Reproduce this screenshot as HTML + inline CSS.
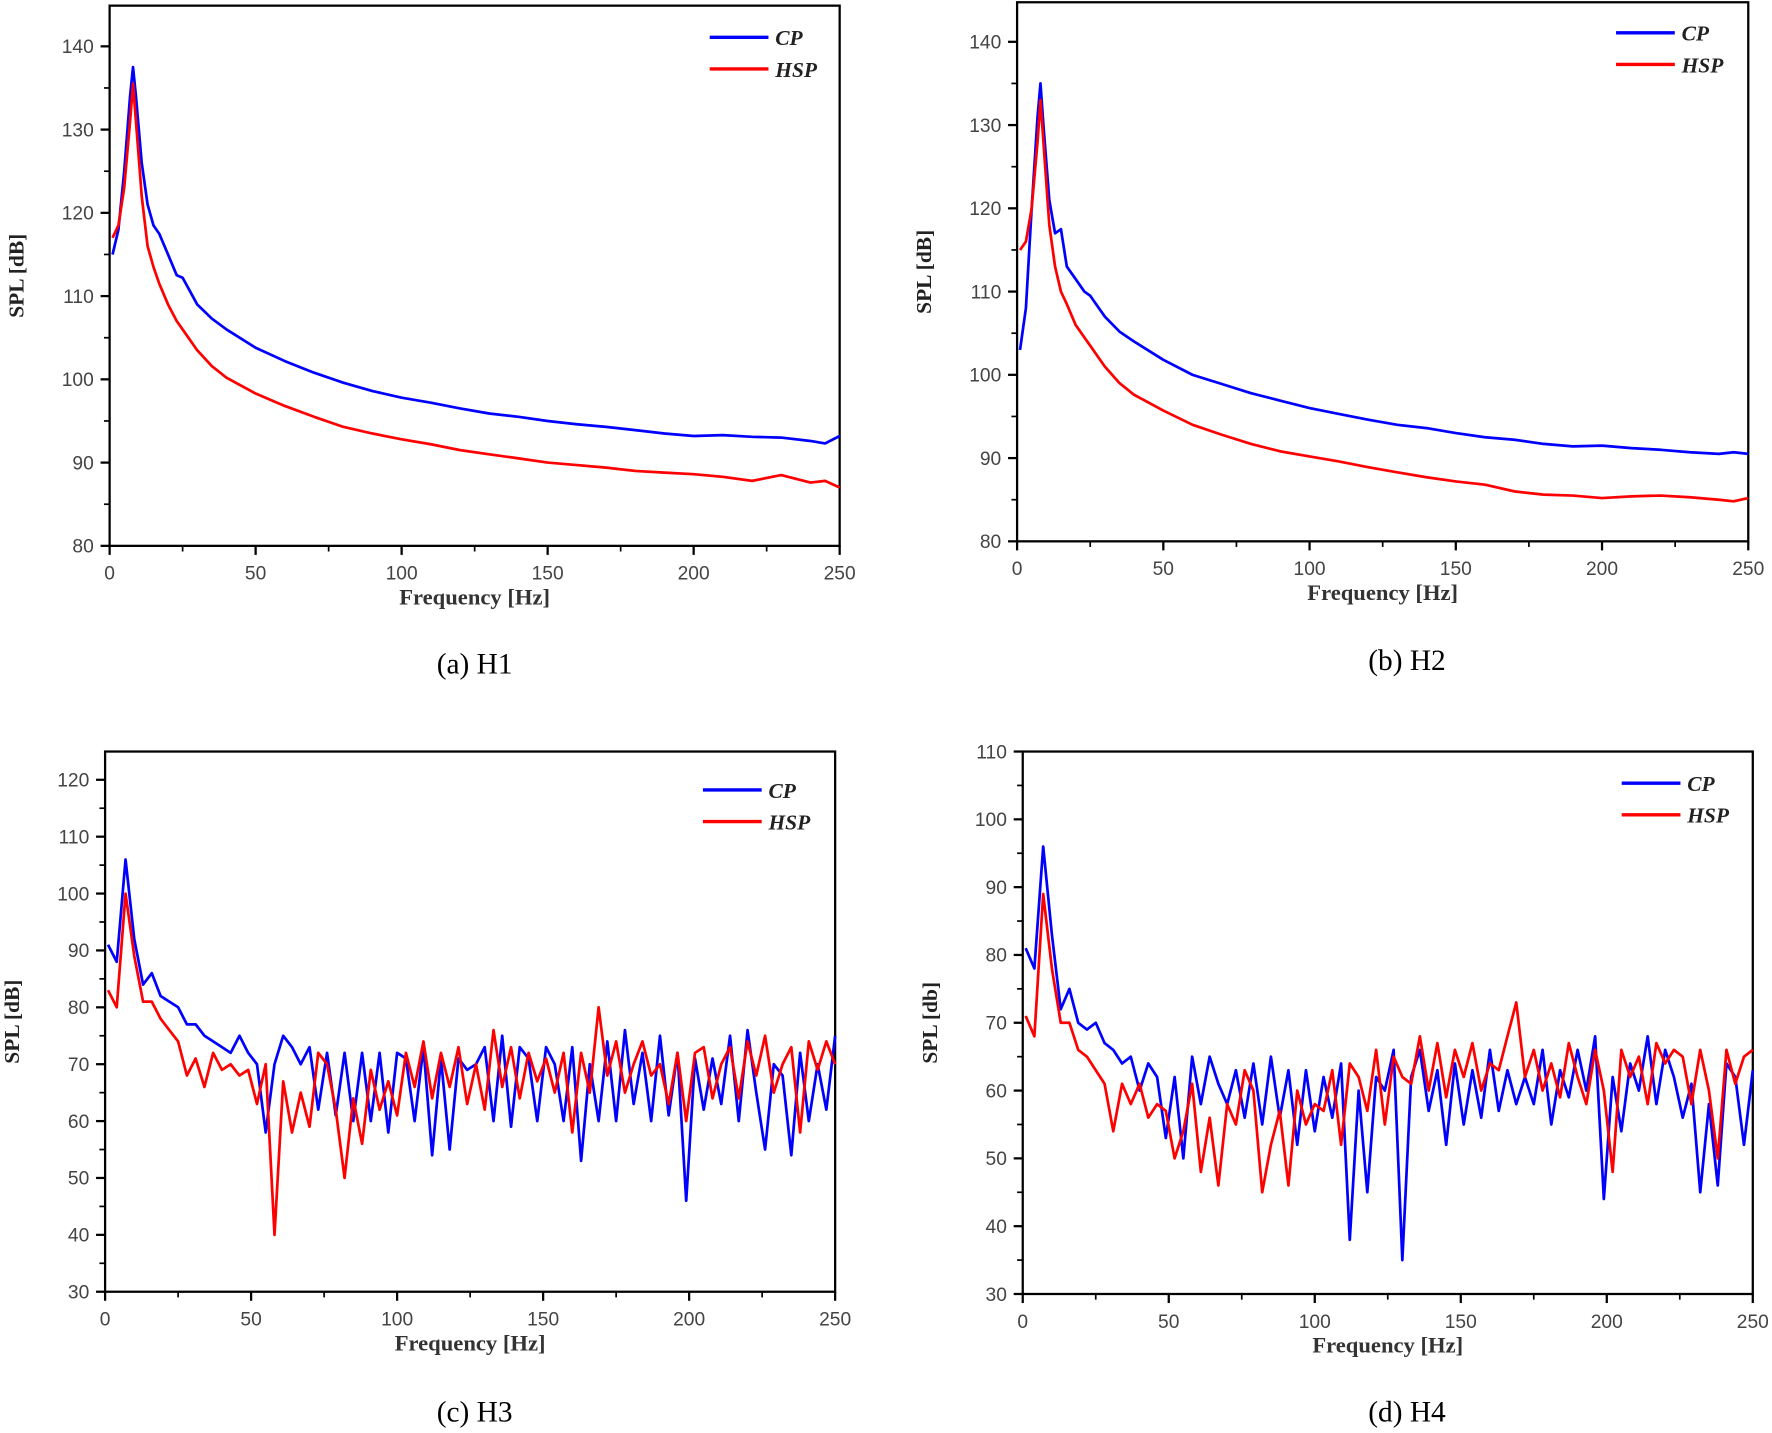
<!DOCTYPE html>
<html><head><meta charset="utf-8"><style>
html,body{margin:0;padding:0;background:#fff;}
svg{display:block;}
</style></head><body>
<svg id="fig" width="1772" height="1433" viewBox="0 0 1568 1268" preserveAspectRatio="none" xmlns="http://www.w3.org/2000/svg"></svg>
<script>
const freqAB = [1,3,5,7,8,9,11,13,15,17,20,23,25,30,35,40,50,60,70,80,90,100,110,120,130,140,150,160,170,180,190,200,210,220,230,240,245,250];
const cpA  = [115,118,125,134,137.5,134,126,121,118.5,117.5,115,112.5,112.2,109,107.3,106,103.8,102.2,100.8,99.6,98.6,97.8,97.2,96.5,95.9,95.5,95,94.6,94.3,93.9,93.5,93.2,93.3,93.1,93,92.6,92.3,93.2];
const hspA = [117,118.5,123,131,135.5,131,122,116,113.5,111.5,109,107,106,103.5,101.6,100.2,98.3,96.8,95.5,94.3,93.5,92.8,92.2,91.5,91,90.5,90,89.7,89.4,89,88.8,88.6,88.3,87.8,88.5,87.6,87.8,87];
const cpB  = [103,108,120,131,135,130,121,117,117.5,113,111.5,110,109.5,107,105.2,104,101.8,100,98.9,97.8,96.9,96,95.3,94.6,94,93.6,93,92.5,92.2,91.7,91.4,91.5,91.2,91,90.7,90.5,90.7,90.5];
const hspB = [115,116,120,128,133,128,118,113,110,108.5,106,104.5,103.5,101,99,97.6,95.7,94,92.8,91.7,90.8,90.2,89.6,88.9,88.3,87.7,87.2,86.8,86,85.6,85.5,85.2,85.4,85.5,85.3,85,84.8,85.2];
const freqCD = [1,4,7,10,13,16,19,22,25,28,31,34,37,40,43,46,49,52,55,58,61,64,67,70,73,76,79,82,85,88,91,94,97,100,103,106,109,112,115,118,121,124,127,130,133,136,139,142,145,148,151,154,157,160,163,166,169,172,175,178,181,184,187,190,193,196,199,202,205,208,211,214,217,220,223,226,229,232,235,238,241,244,247,250];
const cpC  = [91,88,106,92,84,86,82,81,80,77,77,75,74,73,72,75,72,70,58,70,75,73,70,73,62,72,61,72,60,72,60,72,58,72,71,60,73,54,71,55,71,69,70,73,60,75,59,73,71,60,73,70,60,73,53,70,60,74,60,76,63,72,60,75,61,72,46,71,62,71,63,75,60,76,65,55,70,68,54,72,60,70,62,75];
const hspC = [83,80,100,89,81,81,78,76,74,68,71,66,72,69,70,68,69,63,70,40,67,58,65,59,72,70,62,50,64,56,69,62,67,61,72,66,74,64,72,66,73,63,70,62,76,66,73,64,72,67,71,65,72,58,72,65,80,68,74,65,70,74,68,70,63,72,60,72,73,64,70,73,64,74,68,75,65,70,73,58,74,69,74,70];
const cpD  = [81,78,96,83,72,75,70,69,70,67,66,64,65,60,64,62,53,62,50,65,58,65,61,58,63,56,64,55,65,56,63,52,63,54,62,56,64,38,60,45,62,60,66,35,62,66,57,63,52,64,55,63,56,66,57,63,58,62,58,66,55,63,59,66,60,68,44,62,54,64,60,68,58,66,62,56,61,45,58,46,64,62,52,63];
const hspD = [71,68,89,78,70,70,66,65,63,61,54,61,58,61,56,58,57,50,54,61,48,56,46,58,55,63,60,45,52,57,46,60,55,58,57,63,52,64,62,57,66,55,65,62,61,68,60,67,59,66,62,67,60,64,63,68,73,62,66,60,64,59,67,62,58,66,60,48,66,62,65,58,67,64,66,65,58,66,60,50,66,61,65,66];
const xTicks = [0,50,100,150,200,250];
const yTicksAB = [80,90,100,110,120,130,140];
const yTicksC = [30,40,50,60,70,80,90,100,110,120];
const yTicksD = [30,40,50,60,70,80,90,100,110];

const NS='http://www.w3.org/2000/svg';
const svg=document.getElementById('fig');
function mk(tag,attrs,parent){const e=document.createElementNS(NS,tag);for(const k in attrs)e.setAttribute(k,attrs[k]);(parent||svg).appendChild(e);return e;}

function panel(id,box,yMin,yMax,yTop,yTicks,freq,cp,hsp,yLabel,caption,capX,capY,legX,legY){
  const g=mk('g',{});
  
  
  const X=f=>box.x0+(f-0)/(250-0)*(box.x1-box.x0);
  const Y=v=>box.yb-(v-yMin)/(yMax-yMin)*(box.yb-yTop);
  const frame=mk('rect',{x:box.x0,y:box.yt,width:box.x1-box.x0,height:box.yb-box.yt,fill:'none',stroke:'#000','stroke-width':2},g);
  
  
  // y ticks
  for(let i=0;i<yTicks.length;i++){
    const v=yTicks[i];const y=Y(v);
    mk('line',{x1:box.x0-8,x2:box.x0,y1:y,y2:y,stroke:'#000','stroke-width':2},g);
    const t=mk('text',{x:box.x0-14,y:y+6,'text-anchor':'end','font-size':17,fill:'#444','font-family':'Liberation Sans, sans-serif'},g);
    t.textContent=v;
    
    
    if(i<yTicks.length-1){const ym=Y(v+5);mk('line',{x1:box.x0-5,x2:box.x0,y1:ym,y2:ym,stroke:'#000','stroke-width':1.5},g);}
  }
  // x ticks
  for(let i=0;i<xTicks.length;i++){
    const f=xTicks[i];const x=X(f);
    mk('line',{x1:x,x2:x,y1:box.yb,y2:box.yb+8,stroke:'#000','stroke-width':2},g);
    const t=mk('text',{x:x,y:box.yb+30,'text-anchor':'middle','font-size':17,fill:'#444','font-family':'Liberation Sans, sans-serif'},g);
    t.textContent=f;
    
    
    if(i<xTicks.length-1){const xm=X(f+25);mk('line',{x1:xm,x2:xm,y1:box.yb,y2:box.yb+5,stroke:'#000','stroke-width':1.5},g);}
  }
  const xl=mk('text',{x:(box.x0+box.x1)/2,y:box.yb+52,'text-anchor':'middle','font-size':20,'font-weight':'bold',fill:'#333','font-family':'Liberation Serif, serif'},g);
  xl.textContent='Frequency [Hz]';
  
  
  const ymid=(box.yt+box.yb)/2;
  const yl=mk('text',{x:box.x0-76,y:ymid,'text-anchor':'middle','font-size':19,'font-weight':'bold',fill:'#222','font-family':'Liberation Serif, serif',transform:`rotate(-90 ${box.x0-76} ${ymid})`},g);
  yl.setAttribute('x',box.x0-76+0);
  yl.textContent=yLabel;
  
  
  const series=[[cp,'#0000ff','cp-line'],[hsp,'#ff0000','hsp-line']];
  for(const [arr,col,name] of series){
    let d='';for(let i=0;i<freq.length;i++){d+=(i?'L':'M')+X(freq[i]).toFixed(1)+','+Y(arr[i]).toFixed(1);}
    const p=mk('path',{d:d,fill:'none',stroke:col,'stroke-width':2.4,'stroke-linejoin':'round'},g);
    
    
  }
  // legend
  const lg=mk('g',{},g);
  
  
  const entries=[['CP','#0000ff'],['HSP','#ff0000']];
  entries.forEach((e,i)=>{
    const y=legY+i*28;
    mk('line',{x1:legX,x2:legX+52,y1:y,y2:y,stroke:e[1],'stroke-width':3},lg);
    const t=mk('text',{x:legX+58,y:y+7,'font-size':19,'font-weight':'bold','font-style':'italic',fill:'#222','font-family':'Liberation Serif, serif'},lg);
    t.textContent=e[0];
    
    
  });
  const c=mk('text',{x:capX,y:capY,'text-anchor':'middle','font-size':26,fill:'#000','font-family':'Liberation Serif, serif'},g);
  c.textContent=caption;
  
  
}
panel('a',{x0:97,x1:743,yt:5,yb:483},80,140,41,yTicksAB,freqAB,cpA,hspA,'SPL [dB]','(a) H1',420,596,628,33);
panel('b',{x0:900,x1:1547,yt:2,yb:479},80,140,37,yTicksAB,freqAB,cpB,hspB,'SPL [dB]','(b) H2',1245,593,1430,29);
panel('c',{x0:93,x1:739,yt:665,yb:1143},30,120,690,yTicksC,freqCD,cpC,hspC,'SPL [dB]','(c) H3',420,1258,622,699);
panel('d',{x0:905,x1:1551,yt:665,yb:1145},30,110,665,yTicksD,freqCD,cpD,hspD,'SPL [db]','(d) H4',1245,1258,1435,693);
</script>
</body></html>
